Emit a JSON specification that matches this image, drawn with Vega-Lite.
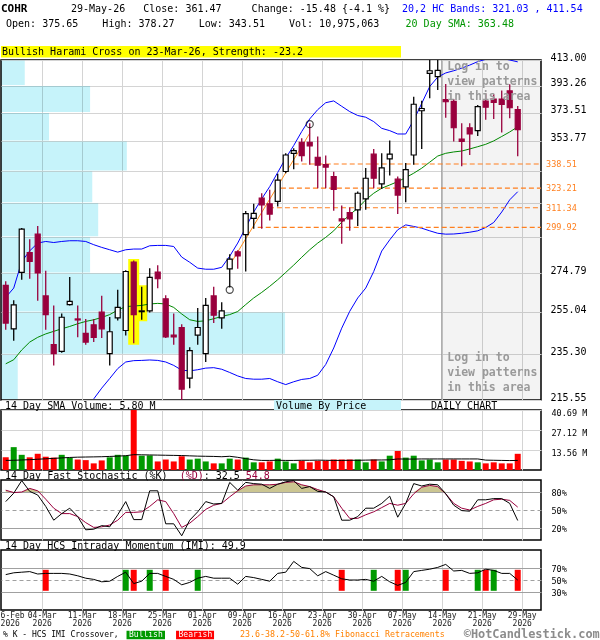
{
  "$schema": "https://vega.github.io/schema/vega-lite/v6.json",
  "padding": {"top": 2, "left": -6, "right": 0, "bottom": 0},
  "background": "white",
  "bounds": "flush",
  "spacing": 10,
  "config": {
    "view": {"stroke": "#000000", "strokeWidth": 1.5},
    "font": "DejaVu Sans Mono",
    "axis": {"labelFont": "DejaVu Sans Mono", "gridColor": "#d4d4d4", "gridWidth": 1, "ticks": false, "domain": false, "labelColor": "#000000", "labelOverlap": false, "tickCount": 30},
    "scale": {"continuousPadding": 0},
    "text": {"font": "DejaVu Sans Mono", "fontSize": 10, "align": "left", "baseline": "middle", "color": "#000000"}
  },
  "datasets": {
    "d": [
      {"i":0,"date":"2026-02-26","o":268.4,"h":270.5,"l":246.5,"c":249.7,"ub":262.3,"sma":231.0,"v":8.6,"vs":6.5,"k":64,"dd":83,"df":83,"imi":59},
      {"i":1,"date":"2026-02-27","o":247.0,"h":260.8,"l":241.4,"c":258.6,"ub":267.0,"sma":232.8,"v":15.5,"vs":6.6,"k":78,"dd":79,"df":80,"imi":62},
      {"i":2,"date":"2026-03-02","o":275.1,"h":299.5,"l":271.3,"c":298.9,"ub":280.9,"sma":237.2,"v":10.3,"vs":6.8,"k":99,"dd":80,"df":80,"imi":63},
      {"i":3,"date":"2026-03-03","o":285.8,"h":293.2,"l":271.8,"c":281.0,"ub":286.7,"sma":240.8,"v":8.6,"vs":7.0,"k":81,"dd":86,"df":86,"imi":64},
      {"i":4,"date":"2026-03-04","o":296.0,"h":300.7,"l":260.6,"c":274.8,"ub":291.0,"sma":243.0,"v":11.0,"vs":7.3,"k":75,"dd":82,"df":82,"imi":60},
      {"i":5,"date":"2026-03-05","o":263.0,"h":276.0,"l":246.5,"c":253.8,"ub":291.9,"sma":244.6,"v":9.0,"vs":7.6,"k":56,"dd":68,"df":80,"imi":61,"xo":"Bearish"},
      {"i":6,"date":"2026-03-06","o":239.6,"h":258.2,"l":230.3,"c":235.5,"ub":291.3,"sma":245.8,"v":8.4,"vs":7.9,"k":33,"dd":53,"df":80,"imi":61},
      {"i":7,"date":"2026-03-09","o":236.6,"h":254.3,"l":235.9,"c":252.5,"ub":291.9,"sma":247.0,"v":10.3,"vs":8.2,"k":44,"dd":44,"df":80,"imi":61},
      {"i":8,"date":"2026-03-10","o":258.7,"h":272.7,"l":258.2,"c":260.3,"ub":292.3,"sma":248.1,"v":8.2,"vs":8.5,"k":53,"dd":44,"df":80,"imi":60},
      {"i":9,"date":"2026-03-11","o":251.7,"h":258.2,"l":243.0,"c":251.2,"ub":292.3,"sma":249.4,"v":7.1,"vs":8.7,"k":39,"dd":39,"df":80,"imi":57},
      {"i":10,"date":"2026-03-12","o":244.8,"h":251.7,"l":239.6,"c":240.8,"ub":291.9,"sma":250.5,"v":6.7,"vs":8.8,"k":17,"dd":29,"df":80,"imi":53},
      {"i":11,"date":"2026-03-13","o":248.9,"h":251.7,"l":240.8,"c":243.0,"ub":290.1,"sma":251.3,"lb":216.0,"v":4.5,"vs":8.9,"k":18,"dd":21,"df":80,"imi":51},
      {"i":12,"date":"2026-03-16","o":255.0,"h":263.1,"l":242.7,"c":247.0,"ub":288.6,"sma":252.4,"lb":220.5,"v":6.5,"vs":9.0,"k":24,"dd":22,"df":80,"imi":47},
      {"i":13,"date":"2026-03-17","o":235.5,"h":252.6,"l":230.3,"c":245.6,"ub":287.3,"sma":253.8,"lb":224.6,"v":8.6,"vs":9.2,"k":22,"dd":25,"df":80,"imi":48},
      {"i":14,"date":"2026-03-18","o":252.2,"h":266.1,"l":251.0,"c":257.3,"ub":286.0,"sma":256.0,"lb":228.9,"v":10.3,"vs":9.4,"k":42,"dd":33,"df":80,"imi":56},
      {"i":15,"date":"2026-03-19","o":246.2,"h":276.3,"l":243.8,"c":275.6,"ub":287.3,"sma":257.7,"lb":231.8,"v":9.7,"vs":9.7,"k":64,"dd":46,"df":80,"imi":63,"xo":"Bullish"},
      {"i":16,"date":"2026-03-20","o":280.6,"h":281.5,"l":240.3,"c":253.8,"ub":287.7,"sma":258.0,"lb":232.4,"v":41.5,"vs":10.4,"k":34,"dd":46,"df":80,"imi":44,"xo":"Bearish","hl":1},
      {"i":17,"date":"2026-03-23","o":255.2,"h":267.7,"l":251.3,"c":255.6,"ub":287.7,"sma":258.3,"lb":232.5,"v":9.7,"vs":10.3,"k":34,"dd":47,"df":80,"imi":48,"hl":1},
      {"i":18,"date":"2026-03-24","o":255.6,"h":277.3,"l":254.8,"c":272.5,"ub":289.5,"sma":259.0,"lb":232.7,"v":9.9,"vs":10.2,"k":82,"dd":56,"df":80,"imi":61,"xo":"Bullish"},
      {"i":19,"date":"2026-03-25","o":275.3,"h":278.9,"l":266.9,"c":271.8,"ub":289.7,"sma":259.3,"lb":232.5,"v":5.8,"vs":10.1,"k":82,"dd":67,"df":80,"imi":61},
      {"i":20,"date":"2026-03-26","o":261.6,"h":263.4,"l":242.7,"c":243.2,"ub":289.7,"sma":259.0,"lb":231.8,"v":7.1,"vs":10.0,"k":27,"dd":64,"df":80,"imi":56,"xo":"Bearish"},
      {"i":21,"date":"2026-03-27","o":244.0,"h":254.3,"l":239.6,"c":243.2,"ub":289.1,"sma":257.3,"lb":230.3,"v":5.8,"vs":9.9,"k":27,"dd":44,"df":80,"imi":51},
      {"i":22,"date":"2026-03-30","o":247.6,"h":249.2,"l":215.6,"c":220.1,"ub":283.3,"sma":254.1,"lb":228.2,"v":9.3,"vs":9.8,"k":7,"dd":21,"df":80,"imi":42},
      {"i":23,"date":"2026-03-31","o":224.8,"h":238.4,"l":220.5,"c":236.9,"ub":280.5,"sma":251.3,"lb":227.9,"v":7.1,"vs":9.6,"k":33,"dd":28,"df":80,"imi":46},
      {"i":24,"date":"2026-04-01","o":244.0,"h":257.0,"l":239.6,"c":247.6,"ub":277.4,"sma":250.5,"lb":228.4,"v":7.7,"vs":9.4,"k":47,"dd":39,"df":80,"imi":53,"xo":"Bullish"},
      {"i":25,"date":"2026-04-02","o":235.5,"h":262.0,"l":231.8,"c":258.3,"ub":276.8,"sma":250.8,"lb":229.1,"v":5.8,"vs":9.3,"k":64,"dd":51,"df":80,"imi":56},
      {"i":26,"date":"2026-04-06","o":263.0,"h":267.7,"l":249.7,"c":253.5,"ub":276.8,"sma":251.8,"lb":229.3,"v":4.5,"vs":9.2,"k":60,"dd":58,"df":80,"imi":53},
      {"i":27,"date":"2026-04-07","o":252.2,"h":259.8,"l":247.0,"c":255.6,"ub":277.8,"sma":252.9,"lb":228.6,"v":4.5,"vs":9.0,"k":61,"dd":61,"df":80,"imi":53},
      {"i":28,"date":"2026-04-08","o":277.0,"h":284.9,"l":267.3,"c":282.2,"ub":283.8,"sma":253.8,"lb":227.2,"v":7.7,"vs":9.3,"k":96,"dd":72,"df":80,"imi":53,"circ":266.1},
      {"i":29,"date":"2026-04-09","o":286.2,"h":287.1,"l":277.0,"c":283.9,"ub":291.0,"sma":255.3,"lb":225.7,"v":7.1,"vs":8.6,"k":83,"dd":82,"df":82,"imi":43},
      {"i":30,"date":"2026-04-10","o":295.7,"h":309.4,"l":275.6,"c":307.8,"ub":299.8,"sma":258.7,"lb":224.6,"v":8.4,"vs":7.7,"k":96,"dd":90,"df":90,"imi":56},
      {"i":31,"date":"2026-04-13","o":305.1,"h":313.7,"l":299.1,"c":308.0,"ub":308.8,"sma":262.0,"lb":224.3,"v":5.2,"vs":6.9,"k":94,"dd":92,"df":92,"imi":54},
      {"i":32,"date":"2026-04-14","o":317.1,"h":320.1,"l":299.1,"c":313.1,"ub":316.7,"sma":264.8,"lb":224.3,"v":5.2,"vs":6.5,"k":93,"dd":92,"df":92,"imi":51},
      {"i":33,"date":"2026-04-15","o":313.7,"h":322.2,"l":303.8,"c":307.6,"ub":324.2,"sma":267.9,"lb":224.6,"v":5.8,"vs":6.5,"k":86,"dd":92,"df":92,"imi":48},
      {"i":34,"date":"2026-04-16","o":315.1,"h":332.3,"l":312.1,"c":328.2,"ub":333.1,"sma":271.3,"lb":223.2,"v":7.7,"vs":6.6,"k":93,"dd":93,"df":93,"imi":61},
      {"i":35,"date":"2026-04-17","o":333.7,"h":345.5,"l":332.6,"c":344.4,"ub":342.3,"sma":275.1,"lb":222.0,"v":5.8,"vs":6.5,"k":97,"dd":96,"df":96,"imi":63},
      {"i":36,"date":"2026-04-20","o":345.5,"h":348.8,"l":335.2,"c":347.3,"ub":350.7,"sma":279.0,"lb":223.2,"v":4.5,"vs":6.5,"k":99,"dd":97,"df":97,"imi":81},
      {"i":37,"date":"2026-04-21","o":352.9,"h":355.6,"l":340.2,"c":344.0,"ub":360.2,"sma":283.2,"lb":224.2,"v":6.2,"vs":6.6,"k":86,"dd":92,"df":92,"imi":71},
      {"i":38,"date":"2026-04-22","o":352.9,"h":366.0,"l":338.1,"c":350.5,"ub":369.0,"sma":287.3,"lb":224.6,"v":5.2,"vs":6.6,"k":89,"dd":89,"df":89,"imi":69,"circ":365.3},
      {"i":39,"date":"2026-04-23","o":342.9,"h":356.8,"l":323.2,"c":337.7,"ub":375.6,"sma":291.0,"lb":226.0,"v":6.2,"vs":6.7,"k":81,"dd":84,"df":84,"imi":57},
      {"i":40,"date":"2026-04-24","o":338.1,"h":344.0,"l":323.2,"c":336.5,"ub":380.6,"sma":294.2,"lb":230.7,"v":6.2,"vs":6.6,"k":80,"dd":80,"df":80,"imi":64},
      {"i":41,"date":"2026-04-27","o":330.5,"h":333.6,"l":309.6,"c":322.5,"ub":381.9,"sma":297.9,"lb":238.1,"v":7.1,"vs":6.5,"k":72,"dd":72,"df":80,"imi":58},
      {"i":42,"date":"2026-04-28","o":304.8,"h":312.7,"l":290.6,"c":303.6,"ub":378.0,"sma":302.9,"lb":247.3,"v":7.1,"vs":6.5,"k":33,"dd":53,"df":80,"imi":52,"xo":"Bearish"},
      {"i":43,"date":"2026-04-29","o":308.4,"h":311.5,"l":298.0,"c":304.8,"ub":374.2,"sma":307.2,"lb":255.4,"v":7.1,"vs":6.6,"k":33,"dd":36,"df":80,"imi":50},
      {"i":44,"date":"2026-04-30","o":310.1,"h":321.1,"l":300.7,"c":320.1,"ub":371.4,"sma":311.1,"lb":262.0,"v":7.1,"vs":6.6,"k":39,"dd":36,"df":80,"imi":50},
      {"i":45,"date":"2026-05-01","o":316.7,"h":336.0,"l":310.1,"c":329.4,"ub":370.2,"sma":316.1,"lb":267.0,"v":5.2,"vs":6.7,"k":53,"dd":42,"df":80,"imi":51},
      {"i":46,"date":"2026-05-04","o":344.9,"h":348.4,"l":323.1,"c":329.4,"ub":367.1,"sma":320.1,"lb":275.6,"v":7.1,"vs":6.8,"k":53,"dd":47,"df":80,"imi":48,"xo":"Bullish"},
      {"i":47,"date":"2026-05-05","o":325.9,"h":345.5,"l":322.7,"c":336.0,"ub":362.4,"sma":323.2,"lb":286.6,"v":5.8,"vs":6.8,"k":61,"dd":54,"df":80,"imi":56},
      {"i":48,"date":"2026-05-06","o":341.9,"h":354.1,"l":331.2,"c":344.9,"ub":360.8,"sma":325.2,"lb":292.8,"v":9.7,"vs":6.9,"k":73,"dd":61,"df":80,"imi":47},
      {"i":49,"date":"2026-05-07","o":328.8,"h":330.5,"l":307.6,"c":319.0,"ub":358.5,"sma":327.3,"lb":298.5,"v":12.9,"vs":7.5,"k":38,"dd":58,"df":80,"imi":41,"xo":"Bearish"},
      {"i":50,"date":"2026-05-08","o":324.0,"h":339.1,"l":314.7,"c":334.9,"ub":358.5,"sma":329.8,"lb":301.3,"v":8.4,"vs":7.4,"k":61,"dd":61,"df":80,"imi":46,"xo":"Bullish"},
      {"i":51,"date":"2026-05-11","o":344.4,"h":385.0,"l":338.1,"c":379.5,"ub":368.1,"sma":332.6,"lb":300.4,"v":9.7,"vs":7.4,"k":94,"dd":77,"df":80,"imi":64},
      {"i":52,"date":"2026-05-12","o":374.8,"h":382.1,"l":348.3,"c":376.4,"ub":380.1,"sma":335.8,"lb":299.4,"v":6.5,"vs":7.5,"k":90,"dd":88,"df":88,"imi":66},
      {"i":53,"date":"2026-05-13","o":402.6,"h":420.0,"l":383.8,"c":404.6,"ub":392.6,"sma":339.7,"lb":297.9,"v":7.1,"vs":7.5,"k":93,"dd":91,"df":91,"imi":68},
      {"i":54,"date":"2026-05-14","o":400.1,"h":416.0,"l":390.0,"c":404.9,"ub":399.7,"sma":343.7,"lb":296.5,"v":5.2,"vs":7.5,"k":92,"dd":89,"df":89,"imi":71},
      {"i":55,"date":"2026-05-15","o":382.8,"h":394.5,"l":369.9,"c":381.3,"ub":402.9,"sma":345.5,"lb":296.0,"v":7.1,"vs":7.5,"k":77,"dd":77,"df":80,"imi":76,"xo":"Bearish"},
      {"i":56,"date":"2026-05-18","o":381.6,"h":383.3,"l":353.4,"c":362.8,"ub":404.6,"sma":346.4,"lb":296.1,"v":7.1,"vs":7.5,"k":58,"dd":61,"df":80,"imi":65},
      {"i":57,"date":"2026-05-19","o":355.0,"h":366.0,"l":337.0,"c":353.4,"ub":406.6,"sma":347.0,"lb":296.5,"v":6.2,"vs":7.5,"k":49,"dd":53,"df":80,"imi":66},
      {"i":58,"date":"2026-05-20","o":362.8,"h":366.0,"l":344.4,"c":358.5,"ub":409.0,"sma":348.4,"lb":297.1,"v":5.8,"vs":7.5,"k":48,"dd":50,"df":80,"imi":61},
      {"i":59,"date":"2026-05-21","o":360.8,"h":379.0,"l":357.2,"c":377.8,"ub":411.7,"sma":349.9,"lb":297.9,"v":5.2,"vs":7.5,"k":67,"dd":56,"df":80,"imi":62,"xo":"Bullish"},
      {"i":60,"date":"2026-05-22","o":381.8,"h":387.4,"l":368.4,"c":377.3,"ub":413.5,"sma":351.5,"lb":299.8,"v":4.5,"vs":6.7,"k":67,"dd":61,"df":80,"imi":68,"xo":"Bearish"},
      {"i":61,"date":"2026-05-26","o":383.3,"h":386.9,"l":369.0,"c":380.8,"ub":414.3,"sma":353.8,"lb":302.7,"v":5.2,"vs":6.6,"k":69,"dd":67,"df":80,"imi":66,"xo":"Bullish"},
      {"i":62,"date":"2026-05-27","o":383.3,"h":389.6,"l":359.6,"c":379.3,"ub":414.3,"sma":356.8,"lb":308.8,"v":4.5,"vs":6.5,"k":69,"dd":68,"df":80,"imi":61},
      {"i":63,"date":"2026-05-28","o":389.3,"h":394.2,"l":369.4,"c":376.95,"ub":413.0,"sma":359.9,"lb":316.1,"v":4.5,"vs":6.4,"k":61,"dd":66,"df":80,"imi":61},
      {"i":64,"date":"2026-05-29","o":375.65,"h":378.27,"l":343.51,"c":361.47,"ub":411.54,"sma":363.48,"lb":321.03,"v":10.98,"vs":6.5,"k":32.5,"dd":54.8,"df":80,"imi":49.9,"xo":"Bearish"}
    ],
    "vbp": [
      {"lo":393.26,"hi":413.0,"vbp":4.4},
      {"lo":373.51,"hi":393.26,"vbp":16.5},
      {"lo":353.77,"hi":373.51,"vbp":8.9},
      {"lo":334.02,"hi":353.77,"vbp":23.3},
      {"lo":314.28,"hi":334.02,"vbp":16.9},
      {"lo":294.53,"hi":314.28,"vbp":18.0},
      {"lo":274.79,"hi":294.53,"vbp":16.5},
      {"lo":255.04,"hi":274.79,"vbp":23.3},
      {"lo":235.30,"hi":255.04,"vbp":52.6},
      {"lo":215.55,"hi":235.30,"vbp":3.1}
    ],
    "fib": [
      {"level":338.51,"from":36.0},
      {"level":323.21,"from":34.4},
      {"level":311.34,"from":32.9},
      {"level":299.92,"from":31.5}
    ],
    "trend": [
      {"i":28,"p":279},
      {"i":38,"p":359}
    ]
  },
  "vconcat": [
    {
      "width": 540,
      "height": 340,
      "layer": [
        {
          "data": {"name": "vbp"},
          "mark": {"type": "rect", "color": "#c6f3fa", "blend": "multiply", "yOffset": 0.5, "y2Offset": -0.5},
          "encoding": {
            "x": {"field": "vbp", "type": "quantitative", "scale": {"domain": [0, 100], "nice": false, "padding": 0}, "axis": null},
            "x2": {"datum": 0},
            "y": {
              "field": "hi", "type": "quantitative",
              "scale": {"type": "log", "domain": [215.55, 413], "nice": false, "padding": 0},
              "axis": {
                "orient": "right", "title": null,
                "values": [413, 393.26, 373.51, 353.77, 334.02, 314.28, 294.53, 274.79, 255.04, 235.3, 215.55],
                "labelExpr": "datum.value > 290 && datum.value < 340 ? '' : format(datum.value, '.2f')",
                "labelFontSize": 10, "labelPadding": 9, "labelAlign": "left", "labelBaseline": "middle",
                "labelOffset": -3, "labelFlush": false, "labelOverlap": false, "grid": true, "tickCount": 30
              }
            },
            "y2": {"field": "lo"}
          }
        },
        {
          "layer": [
            {
              "data": {"values": [{"area": "login"}]},
              "mark": {"type": "rect", "color": "#f3f3f3", "blend": "multiply"},
              "encoding": {"x": {"datum": 54.5, "type": "quantitative"}, "x2": {"datum": 66.91}, "y": {"datum": 215.55, "type": "quantitative"}, "y2": {"datum": 413}}
            },
            {
              "data": {"values": [{"area": "login"}]},
              "mark": {"type": "rule", "color": "#999999", "strokeWidth": 1},
              "encoding": {"x": {"datum": 54.5, "type": "quantitative"}, "y": {"datum": 215.55, "type": "quantitative"}, "y2": {"datum": 413}}
            },
            {
              "data": {"name": "d"},
              "transform": [{"filter": "datum.hl == 1"}],
              "mark": {"type": "bar", "size": 8, "color": "#ffff00", "stroke": "#ffff00", "strokeWidth": 3},
              "encoding": {
                "x": {
                  "field": "i", "type": "quantitative",
                  "scale": {"domain": [-0.59, 66.91], "nice": false, "zero": false, "padding": 0},
                  "axis": {"values": [4.5, 9.5, 14.5, 19.5, 24.5, 29.5, 34.5, 39.5, 44.5, 49.5, 54.5, 59.5, 64.5], "labels": false, "grid": true, "title": null, "tickCount": 30}
                },
                "y": {"field": "h", "type": "quantitative"}, "y2": {"field": "l"}
              }
            },
            {
              "data": {"name": "d"},
              "mark": {"type": "line", "color": "#0000ff", "strokeWidth": 1, "clip": true},
              "encoding": {"x": {"field": "i", "type": "quantitative"}, "y": {"field": "ub", "type": "quantitative"}}
            },
            {
              "data": {"name": "d"},
              "mark": {"type": "line", "color": "#008800", "strokeWidth": 1, "clip": true},
              "encoding": {"x": {"field": "i", "type": "quantitative"}, "y": {"field": "sma", "type": "quantitative"}}
            },
            {
              "data": {"name": "d"},
              "mark": {"type": "line", "color": "#0000ff", "strokeWidth": 1, "clip": true},
              "encoding": {"x": {"field": "i", "type": "quantitative"}, "y": {"field": "lb", "type": "quantitative"}}
            },
            {
              "data": {"name": "trend"},
              "mark": {"type": "line", "color": "#ff8c1a", "strokeWidth": 1},
              "encoding": {"x": {"field": "i", "type": "quantitative"}, "y": {"field": "p", "type": "quantitative"}}
            },
            {
              "data": {"name": "fib"},
              "mark": {"type": "rule", "color": "#ff7f1e", "strokeDash": [5, 3], "strokeWidth": 1.2},
              "encoding": {"x": {"field": "from", "type": "quantitative"}, "x2": {"datum": 66.91}, "y": {"field": "level", "type": "quantitative"}}
            },
            {
              "data": {"name": "fib"},
              "mark": {"type": "text", "color": "#ff7f1e", "fontSize": 8.5},
              "encoding": {"x": {"datum": 67.54, "type": "quantitative"}, "y": {"field": "level", "type": "quantitative"}, "text": {"field": "level", "type": "quantitative", "format": ".2f"}}
            },
            {
              "data": {"name": "d"},
              "mark": {"type": "rule", "strokeWidth": 1.3, "clip": true},
              "encoding": {
                "x": {"field": "i", "type": "quantitative"},
                "y": {"field": "h", "type": "quantitative"}, "y2": {"field": "l"},
                "color": {"condition": {"test": "datum.c >= datum.o", "value": "#000000"}, "value": "#99003d"}
              }
            },
            {
              "data": {"name": "d"},
              "mark": {"type": "bar", "size": 5, "strokeWidth": 1.2, "clip": true},
              "encoding": {
                "x": {"field": "i", "type": "quantitative"},
                "y": {"field": "o", "type": "quantitative"}, "y2": {"field": "c"},
                "fill": {"condition": {"test": "datum.c >= datum.o", "value": "#ffffff"}, "value": "#99003d"},
                "stroke": {"condition": {"test": "datum.c >= datum.o", "value": "#000000"}, "value": "#99003d"}
              }
            },
            {
              "data": {"name": "d"},
              "transform": [{"filter": "isValid(datum.circ)"}],
              "mark": {"type": "point", "shape": "circle", "filled": false, "size": 50, "stroke": "#000000", "strokeWidth": 1.2},
              "encoding": {"x": {"field": "i", "type": "quantitative"}, "y": {"field": "circ", "type": "quantitative"}}
            },
            {
              "data": {"values": [{"part": "symbol"}]},
              "mark": {"type": "text", "text": "COHR", "fontWeight": "bold", "fontSize": 11},
              "encoding": {"x": {"datum": -0.59, "type": "quantitative"}, "y": {"datum": 455.3, "type": "quantitative"}}
            },
            {
              "data": {"values": [{"part": "quote1"}]},
              "mark": {"type": "text", "text": "29-May-26 \u00a0\u00a0Close: 361.47 \u00a0\u00a0\u00a0\u00a0Change: -15.48 {-4.1 %}"},
              "encoding": {"x": {"datum": 8.16, "type": "quantitative"}, "y": {"datum": 455.3, "type": "quantitative"}}
            },
            {
              "data": {"values": [{"part": "quote2"}]},
              "mark": {"type": "text", "text": "Open: 375.65 \u00a0\u00a0\u00a0High: 378.27 \u00a0\u00a0\u00a0Low: 343.51 \u00a0\u00a0\u00a0Vol: 10,975,063"},
              "encoding": {"x": {"datum": 0.04, "type": "quantitative"}, "y": {"datum": 442.4, "type": "quantitative"}}
            },
            {
              "data": {"values": [{"part": "bands"}]},
              "mark": {"type": "text", "text": "20,2 HC Bands: 321.03 , 411.54", "color": "#0000ff"},
              "encoding": {"x": {"datum": 49.54, "type": "quantitative"}, "y": {"datum": 455.3, "type": "quantitative"}}
            },
            {
              "data": {"values": [{"part": "sma"}]},
              "mark": {"type": "text", "text": "20 Day SMA: 363.48", "color": "#009600"},
              "encoding": {"x": {"datum": 49.98, "type": "quantitative"}, "y": {"datum": 442.4, "type": "quantitative"}}
            },
            {
              "data": {"values": [{"part": "pattern"}]},
              "mark": {"type": "rect", "color": "#ffff00"},
              "encoding": {"x": {"datum": -0.59, "type": "quantitative"}, "x2": {"datum": 49.41}, "y": {"datum": 415.0, "type": "quantitative"}, "y2": {"datum": 424.2}}
            },
            {
              "data": {"values": [{"part": "pattern"}]},
              "mark": {"type": "text", "text": "Bullish Harami Cross on 23-Mar-26, Strength: -23.2"},
              "encoding": {"x": {"datum": -0.47, "type": "quantitative"}, "y": {"datum": 419.4, "type": "quantitative"}}
            },
            {
              "data": {"values": [{"part": "login"}]},
              "mark": {"type": "text", "text": ["Log in to", "view patterns", "in this area"], "baseline": "top", "lineHeight": 15, "fontSize": 11.5, "fontWeight": "bold", "color": "#9a9a9a"},
              "encoding": {"x": {"datum": 55.2, "type": "quantitative"}, "y": {"datum": 412.2, "type": "quantitative"}}
            },
            {
              "data": {"values": [{"part": "login"}]},
              "mark": {"type": "text", "text": ["Log in to", "view patterns", "in this area"], "baseline": "top", "lineHeight": 15, "fontSize": 11.5, "fontWeight": "bold", "color": "#9a9a9a"},
              "encoding": {"x": {"datum": 55.2, "type": "quantitative"}, "y": {"datum": 236.3, "type": "quantitative"}}
            }
          ]
        }
      ],
      "resolve": {"scale": {"x": "independent"}}
    },
    {
      "width": 540,
      "height": 60,
      "layer": [
        {
          "data": {"name": "d"},
          "mark": {"type": "bar", "size": 6, "clip": true},
          "encoding": {
            "x": {
              "field": "i", "type": "quantitative",
              "scale": {"domain": [-0.59, 66.91], "nice": false, "zero": false, "padding": 0},
              "axis": {"values": [4.5, 9.5, 14.5, 19.5, 24.5, 29.5, 34.5, 39.5, 44.5, 49.5, 54.5, 59.5, 64.5], "labels": false, "grid": true, "title": null, "tickCount": 30}
            },
            "y": {
              "field": "v", "type": "quantitative",
              "scale": {"domain": [0, 40.69], "nice": false, "padding": 0},
              "axis": {"orient": "right", "title": null, "values": [13.56, 27.12, 40.69], "labelExpr": "format(datum.value, '.2f') + ' M'", "labelFontSize": 8.5, "labelPadding": 10, "labelAlign": "left", "labelBaseline": "middle", "labelOffset": 2, "labelFlush": false, "labelOverlap": false, "grid": true, "tickCount": 30}
            },
            "color": {"condition": {"test": "datum.c >= datum.o", "value": "#009900"}, "value": "#ff0000"}
          }
        },
        {
          "data": {"name": "d"},
          "mark": {"type": "line", "color": "#000000", "strokeWidth": 1},
          "encoding": {"x": {"field": "i", "type": "quantitative"}, "y": {"field": "vs", "type": "quantitative"}}
        },
        {
          "data": {"values": [{"part": "vbp"}]},
          "mark": {"type": "rect", "color": "#c6f3fa"},
          "encoding": {"x": {"datum": 33.54, "type": "quantitative"}, "x2": {"datum": 49.41}, "y": {"datum": 40.69, "type": "quantitative"}, "y2": {"datum": 47.47}}
        },
        {
          "data": {"values": [{"part": "title"}]},
          "mark": {"type": "text", "text": "14 Day SMA Volume: 5.80 M"},
          "encoding": {"x": {"datum": -0.09, "type": "quantitative"}, "y": {"datum": 43.74, "type": "quantitative"}}
        },
        {
          "data": {"values": [{"part": "vbp"}]},
          "mark": {"type": "text", "text": "Volume By Price"},
          "encoding": {"x": {"datum": 33.79, "type": "quantitative"}, "y": {"datum": 43.74, "type": "quantitative"}}
        },
        {
          "data": {"values": [{"part": "daily"}]},
          "mark": {"type": "text", "text": "DAILY CHART"},
          "encoding": {"x": {"datum": 53.16, "type": "quantitative"}, "y": {"datum": 43.74, "type": "quantitative"}}
        }
      ]
    },
    {
      "width": 540,
      "height": 60,
      "layer": [
        {
          "data": {"name": "d"},
          "mark": {"type": "area", "color": "#cbc591"},
          "encoding": {
            "x": {
              "field": "i", "type": "quantitative",
              "scale": {"domain": [-0.59, 66.91], "nice": false, "zero": false, "padding": 0},
              "axis": {"values": [4.5, 9.5, 14.5, 19.5, 24.5, 29.5, 34.5, 39.5, 44.5, 49.5, 54.5, 59.5, 64.5], "labels": false, "grid": true, "title": null, "tickCount": 30}
            },
            "y": {
              "field": "df", "type": "quantitative",
              "scale": {"domain": [0, 100], "nice": false, "padding": 0},
              "axis": {"orient": "right", "title": null, "values": [20, 50, 80], "labelExpr": "datum.value + '%'", "labelFontSize": 8.5, "labelPadding": 10, "labelAlign": "left", "labelBaseline": "middle", "labelFlush": false, "labelOverlap": false, "tickCount": 30, "grid": true, "gridColor": "#a0a0a0", "gridDash": {"condition": {"test": "datum.value == 50", "value": [4, 3]}, "value": []}}
            },
            "y2": {"datum": 80}
          }
        },
        {
          "data": {"name": "d"},
          "mark": {"type": "line", "color": "#99003d", "strokeWidth": 1},
          "encoding": {"x": {"field": "i", "type": "quantitative"}, "y": {"field": "dd", "type": "quantitative"}}
        },
        {
          "data": {"name": "d"},
          "mark": {"type": "line", "color": "#000000", "strokeWidth": 1},
          "encoding": {"x": {"field": "i", "type": "quantitative"}, "y": {"field": "k", "type": "quantitative"}}
        },
        {
          "data": {"values": [{"part": "title"}]},
          "mark": {"type": "text", "text": "14 Day Fast Stochastic (%K)"},
          "encoding": {"x": {"datum": -0.09, "type": "quantitative"}, "y": {"datum": 106.67, "type": "quantitative"}}
        },
        {
          "data": {"values": [{"part": "title"}]},
          "mark": {"type": "text", "text": "(%D)", "color": "#99003d"},
          "encoding": {"x": {"datum": 21.74, "type": "quantitative"}, "y": {"datum": 106.67, "type": "quantitative"}}
        },
        {
          "data": {"values": [{"part": "title"}]},
          "mark": {"type": "text", "text": ": 32.5"},
          "encoding": {"x": {"datum": 24.74, "type": "quantitative"}, "y": {"datum": 106.67, "type": "quantitative"}}
        },
        {
          "data": {"values": [{"part": "title"}]},
          "mark": {"type": "text", "text": "54.8", "color": "#99003d"},
          "encoding": {"x": {"datum": 30.01, "type": "quantitative"}, "y": {"datum": 106.67, "type": "quantitative"}}
        }
      ]
    },
    {
      "width": 540,
      "height": 60,
      "layer": [
        {
          "data": {"name": "d"},
          "transform": [{"filter": "isValid(datum.xo)"}],
          "mark": {"type": "bar", "size": 6},
          "encoding": {
            "x": {
              "field": "i", "type": "quantitative",
              "scale": {"domain": [-0.59, 66.91], "nice": false, "zero": false, "padding": 0},
              "axis": {
                "values": [0.5, 4.5, 9.5, 14.5, 19.5, 24.5, 29.5, 34.5, 39.5, 44.5, 49.5, 54.5, 59.5, 64.5],
                "grid": true, "title": null, "tickCount": 30,
                "gridOpacity": {"condition": {"test": "datum.value < 1", "value": 0}, "value": 1},
                "labelExpr": "[['26-Feb','04-Mar','11-Mar','18-Mar','25-Mar','01-Apr','09-Apr','16-Apr','23-Apr','30-Apr','07-May','14-May','21-May','29-May'][floor((datum.value + 0.5) / 5)], '2026']",
                "labelFontSize": 8, "labelLineHeight": 8, "labelPadding": 1, "labelFlush": false, "labelOverlap": false, "labelColor": "#222222"
              }
            },
            "y": {
              "datum": 32, "type": "quantitative",
              "scale": {"domain": [0, 100], "nice": false, "padding": 0},
              "axis": {"orient": "right", "title": null, "values": [30, 50, 70], "labelExpr": "datum.value + '%'", "labelFontSize": 8.5, "labelPadding": 10, "labelAlign": "left", "labelBaseline": "middle", "labelFlush": false, "labelOverlap": false, "tickCount": 30, "grid": true, "gridColor": "#a0a0a0", "gridDash": {"condition": {"test": "datum.value == 50", "value": [4, 3]}, "value": []}}
            },
            "y2": {"datum": 67},
            "color": {"field": "xo", "type": "nominal", "scale": {"domain": ["Bullish", "Bearish"], "range": ["#009900", "#ff0000"]}, "legend": null}
          }
        },
        {
          "data": {"name": "d"},
          "mark": {"type": "line", "color": "#000000", "strokeWidth": 1},
          "encoding": {"x": {"field": "i", "type": "quantitative"}, "y": {"field": "imi", "type": "quantitative"}}
        },
        {
          "data": {"values": [{"part": "title"}]},
          "mark": {"type": "text", "text": "14 Day HCS Intraday Momentum (IMI): 49.9"},
          "encoding": {"x": {"datum": -0.09, "type": "quantitative"}, "y": {"datum": 106.67, "type": "quantitative"}}
        },
        {
          "data": {"values": [{"part": "legend"}]},
          "mark": {"type": "text", "text": "% K - HCS IMI Crossover,", "fontSize": 8},
          "encoding": {"x": {"datum": -0.34, "type": "quantitative"}, "y": {"datum": -41.67, "type": "quantitative"}}
        },
        {
          "data": {"values": [{"part": "legend"}]},
          "mark": {"type": "rect", "color": "#009900"},
          "encoding": {"x": {"datum": 15.1, "type": "quantitative"}, "x2": {"datum": 19.91}, "y": {"datum": -34.5, "type": "quantitative"}, "y2": {"datum": -48.8}}
        },
        {
          "data": {"values": [{"part": "legend"}]},
          "mark": {"type": "text", "text": "Bullish", "fontSize": 8, "color": "#ffffff"},
          "encoding": {"x": {"datum": 15.41, "type": "quantitative"}, "y": {"datum": -41.67, "type": "quantitative"}}
        },
        {
          "data": {"values": [{"part": "legend"}]},
          "mark": {"type": "rect", "color": "#ff0000"},
          "encoding": {"x": {"datum": 21.29, "type": "quantitative"}, "x2": {"datum": 26.04}, "y": {"datum": -34.5, "type": "quantitative"}, "y2": {"datum": -48.8}}
        },
        {
          "data": {"values": [{"part": "legend"}]},
          "mark": {"type": "text", "text": "Bearish", "fontSize": 8, "color": "#ffffff"},
          "encoding": {"x": {"datum": 21.6, "type": "quantitative"}, "y": {"datum": -41.67, "type": "quantitative"}}
        },
        {
          "data": {"values": [{"part": "legend"}]},
          "mark": {"type": "text", "text": "23.6-38.2-50-61.8% Fibonacci Retracements", "fontSize": 8.3, "color": "#ff8000"},
          "encoding": {"x": {"datum": 29.29, "type": "quantitative"}, "y": {"datum": -41.67, "type": "quantitative"}}
        },
        {
          "data": {"values": [{"part": "legend"}]},
          "mark": {"type": "text", "text": "\u00a9HotCandlestick.com", "fontWeight": "bold", "fontSize": 11.9, "color": "#8c8c8c"},
          "encoding": {"x": {"datum": 57.25, "type": "quantitative"}, "y": {"datum": -40.8, "type": "quantitative"}}
        }
      ]
    }
  ]
}
